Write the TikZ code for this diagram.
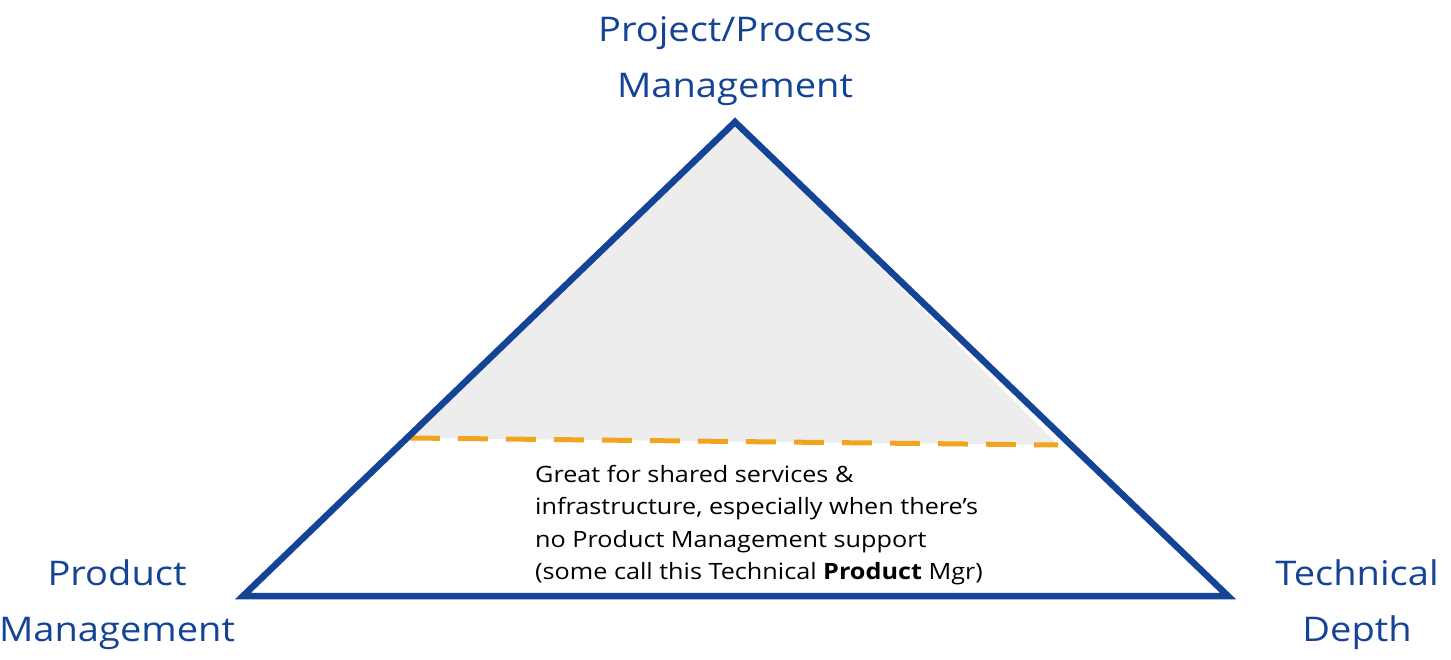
\documentclass[tikz,border=0pt]{standalone}
\usepackage{fontspec}
\setmainfont[FakeStretch=1.12]{Open Sans}
\definecolor{tblue}{RGB}{21,68,150}
\definecolor{torange}{RGB}{240,165,30}
\definecolor{tgray}{RGB}{237,237,237}
\begin{document}
\begin{tikzpicture}[x=1pt,y=-1pt,
  lbl/.style={text=tblue,font=\fontsize{34}{56}\selectfont,align=center}]
\useasboundingbox (0,0) rectangle (1451,659);
\coordinate (A) at (735,122);
\coordinate (L) at (243,596);
\coordinate (R) at (1228,596);
\coordinate (dl) at (410,438);
\coordinate (dr) at (1058,445);
\fill[tgray] (A) -- (dl) -- (dr) -- cycle;
\draw[torange,line width=5pt,dash pattern=on 30pt off 18pt] (dl) -- (dr);
\draw[tblue,line width=6.5pt,line join=miter] (A) -- (L) -- (R) -- cycle;
\node[lbl] (top) at (735,61) {Project/Process\\Management};
\node[lbl] (pm) at (117,605) {Product\\Management};
\node[lbl] (td) at (1357,605) {Technical\\Depth};
\node[anchor=north west,align=left,font=\fontsize{22.5}{32.5}\selectfont,inner sep=0pt] (txt) at (535,465)
 {Great for shared services \&\\infrastructure, especially when there’s\\no Product Management support\\(some call this Technical \textbf{Product} Mgr)};
\end{tikzpicture}
\end{document}
